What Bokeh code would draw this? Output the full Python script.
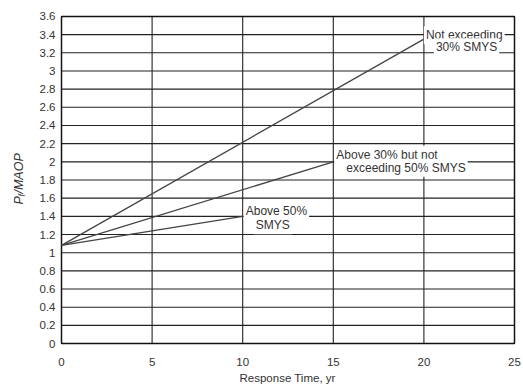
import math
from bokeh.plotting import figure
from bokeh.models import Range1d, FixedTicker, Label, Title
from bokeh.embed import file_html
from bokeh.resources import INLINE

# ---- data ----
start_ratio = 1.08
series_names = ["Not exceeding 30% SMYS", "Above 30% but not exceeding 50% SMYS", "Above 50% SMYS"]
series_x = [[0, 20], [0, 15], [0, 10]]
series_y = [[start_ratio, 3.35], [start_ratio, 2.0], [start_ratio, 1.4]]
label_lines = [["Not exceeding", "30% SMYS"],
               ["Above 30% but not", "exceeding 50% SMYS"],
               ["Above 50%", "SMYS"]]
x_ticks = [0, 5, 10, 15, 20, 25]
x_tick_labels = ["0", "5", "10", "15", "20", "25"]
y_ticks = [0, 0.2, 0.4, 0.6, 0.8, 1, 1.2, 1.4, 1.6, 1.8, 2, 2.2, 2.4, 2.6, 2.8, 3, 3.2, 3.4, 3.6]
y_tick_labels = ["0", "0.2", "0.4", "0.6", "0.8", "1", "1.2", "1.4", "1.6", "1.8", "2",
                 "2.2", "2.4", "2.6", "2.8", "3", "3.2", "3.4", "3.6"]
x_min, x_max = x_ticks[0], x_ticks[-1]
y_min, y_max = y_ticks[0], y_ticks[-1]

FONT = "Liberation Sans"
TXT = "#333333"
GRID = "#222222"

# px per data unit of the data area (453 x 329 px)
xs_px = 453.0 / (x_max - x_min)
ys_px = 329.0 / (y_max - y_min)
# frame extends beyond the data area so rotated label / edge tick labels are not clipped
p = figure(width=523, height=384,
           x_range=Range1d(x_min - 53.0 / xs_px, x_max + 2.0 / xs_px),
           y_range=Range1d(y_min - 8.0 / ys_px, y_max + 8.0 / ys_px),
           output_backend="svg", toolbar_location=None,
           min_border_left=8, min_border_right=7, min_border_top=8, min_border_bottom=31)
p.background_fill_color = "white"
p.border_fill_color = "white"
p.outline_line_color = None
p.yaxis.visible = False
p.grid.visible = False

p.xaxis.ticker = FixedTicker(ticks=x_ticks)
p.xaxis.major_label_overrides = {t: l for t, l in zip(x_ticks, x_tick_labels)}
ax = p.xaxis[0]
ax.axis_line_color = None
ax.major_tick_line_color = None
ax.minor_tick_line_color = None
ax.major_label_text_font = FONT
ax.major_label_text_font_size = "11.5px"
ax.major_label_text_color = TXT
ax.major_label_standoff = 0

p.add_layout(Title(text="Response Time, yr", align="left", offset=231,
                   text_font=FONT, text_font_size="11.5px", text_font_style="normal",
                   text_color=TXT, standoff=2), "below")

# grid lines only across the data area
p.segment(x0=[x_min] * len(y_ticks), x1=[x_max] * len(y_ticks), y0=y_ticks, y1=y_ticks,
          line_color=GRID, line_width=1.1)
p.segment(x0=x_ticks, x1=x_ticks, y0=[y_min] * len(x_ticks), y1=[y_max] * len(x_ticks),
          line_color=GRID, line_width=1.1)
# frame border
p.quad(left=[x_min], right=[x_max], bottom=[y_min], top=[y_max], fill_color=None,
       line_color="#111111", line_width=1.4)

# y tick labels
p.text(x=[x_min] * len(y_ticks), y=y_ticks, text=y_tick_labels, x_offset=-6,
       text_align="right", text_baseline="middle", text_font_size="11.5px",
       text_color=TXT, text_font={"value": FONT})

for xs, ys in zip(series_x, series_y):
    p.line(xs, ys, line_color="#444444", line_width=1.3)

# labels at line ends: (first line offset, second line offset) in px
offsets = [((0, 4), (10, -8)),
           ((1, 7), (11, -6)),
           ((1, 5), (11, -9))]
for xs, ys, lines, offs in zip(series_x, series_y, label_lines, offsets):
    for txt, (dx, dy) in zip(lines, offs):
        p.add_layout(Label(x=xs[-1], y=ys[-1], x_offset=dx, y_offset=dy, text=txt,
                           text_font=FONT, text_font_size="12px", text_color=TXT,
                           text_baseline="middle", text_align="left",
                           background_fill_color="white", padding=2))

# y axis label P_f/MAOP (rotated)
yl_x = x_min - 43.0 / xs_px
yl_y = 1.53
p.add_layout(Label(x=yl_x, y=yl_y, text="P", angle=math.pi / 2, text_font=FONT,
                   text_font_size="12.5px", text_font_style="italic", text_color=TXT,
                   text_baseline="middle", text_align="left"))
p.add_layout(Label(x=yl_x, y=yl_y, x_offset=3, y_offset=8, text="f", angle=math.pi / 2,
                   text_font=FONT, text_font_size="8.5px", text_font_style="italic",
                   text_color=TXT, text_baseline="middle", text_align="left"))
p.add_layout(Label(x=yl_x, y=yl_y, y_offset=11, text="/MAOP", angle=math.pi / 2,
                   text_font=FONT, text_font_size="12.5px", text_font_style="italic",
                   text_color=TXT, text_baseline="middle", text_align="left"))

open("out.html", "w").write(file_html(p, INLINE))
